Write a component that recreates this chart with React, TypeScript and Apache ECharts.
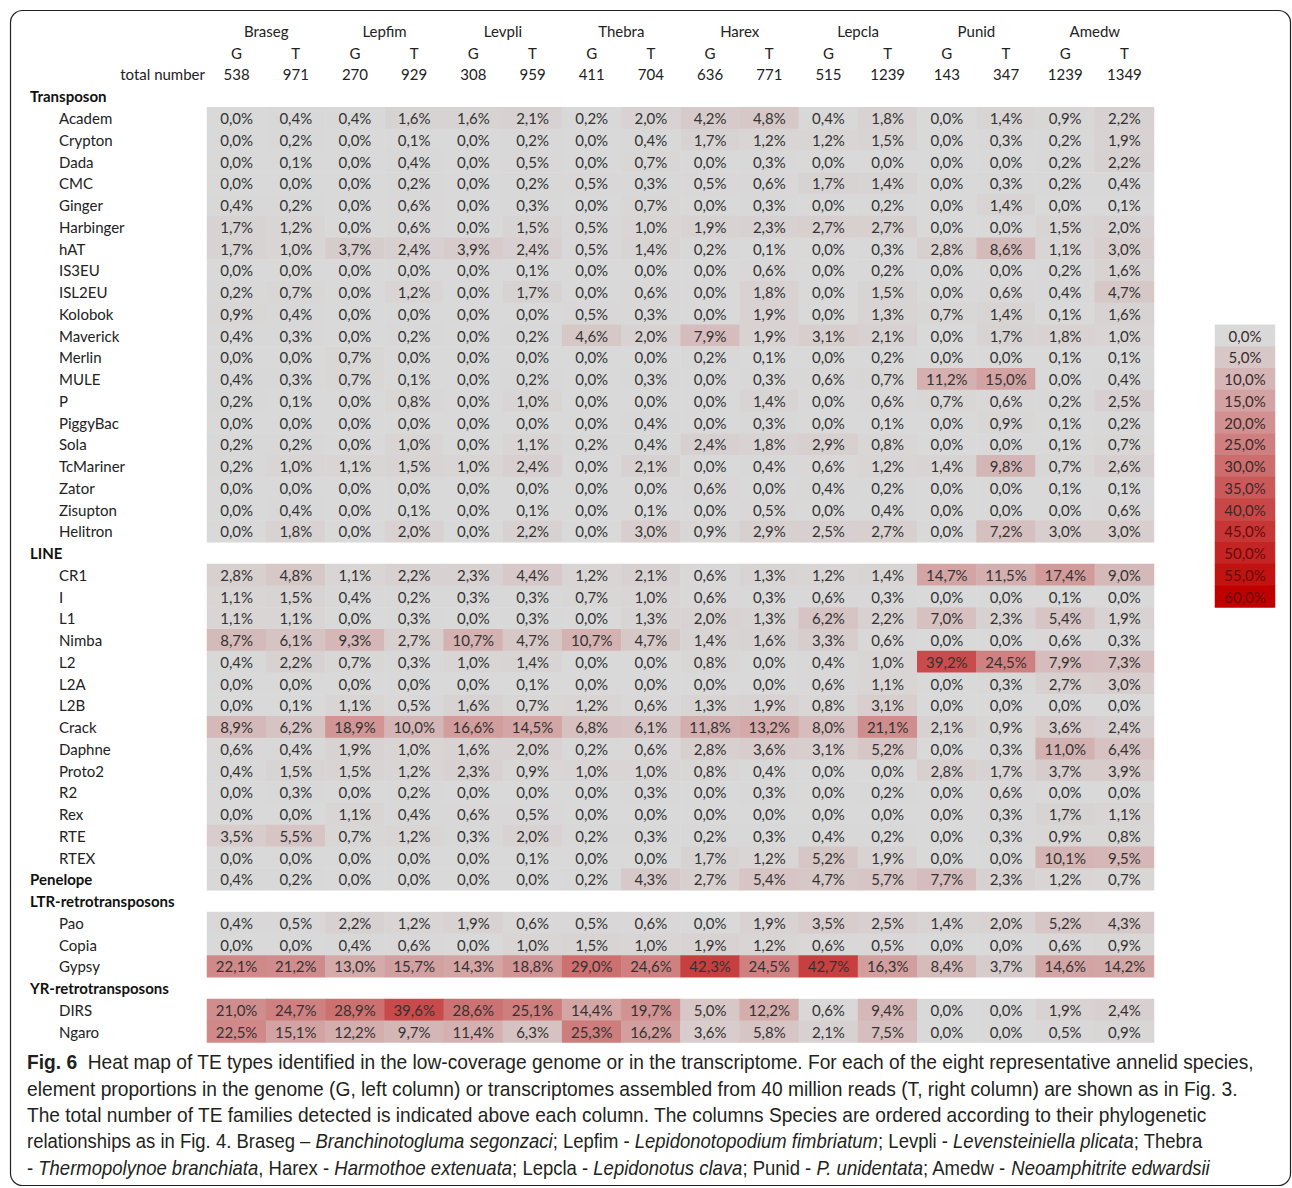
import React, { useEffect, useRef } from 'react';
import * as echarts from 'echarts';

const speciesNames = ['Braseg', 'Lepfim', 'Levpli', 'Thebra', 'Harex', 'Lepcla', 'Punid', 'Amedw'];
const subColumnLabels = ['G', 'T'];
const totalNumbers = [538, 971, 270, 929, 308, 959, 411, 704, 636, 771, 515, 1239, 143, 347, 1239, 1349];

const transposonNames = ['Academ', 'Crypton', 'Dada', 'CMC', 'Ginger', 'Harbinger', 'hAT', 'IS3EU', 'ISL2EU', 'Kolobok', 'Maverick', 'Merlin', 'MULE', 'P', 'PiggyBac', 'Sola', 'TcMariner', 'Zator', 'Zisupton', 'Helitron'];
const transposonValues = [
  [0.0, 0.4, 0.4, 1.6, 1.6, 2.1, 0.2, 2.0, 4.2, 4.8, 0.4, 1.8, 0.0, 1.4, 0.9, 2.2],
  [0.0, 0.2, 0.0, 0.1, 0.0, 0.2, 0.0, 0.4, 1.7, 1.2, 1.2, 1.5, 0.0, 0.3, 0.2, 1.9],
  [0.0, 0.1, 0.0, 0.4, 0.0, 0.5, 0.0, 0.7, 0.0, 0.3, 0.0, 0.0, 0.0, 0.0, 0.2, 2.2],
  [0.0, 0.0, 0.0, 0.2, 0.0, 0.2, 0.5, 0.3, 0.5, 0.6, 1.7, 1.4, 0.0, 0.3, 0.2, 0.4],
  [0.4, 0.2, 0.0, 0.6, 0.0, 0.3, 0.0, 0.7, 0.0, 0.3, 0.0, 0.2, 0.0, 1.4, 0.0, 0.1],
  [1.7, 1.2, 0.0, 0.6, 0.0, 1.5, 0.5, 1.0, 1.9, 2.3, 2.7, 2.7, 0.0, 0.0, 1.5, 2.0],
  [1.7, 1.0, 3.7, 2.4, 3.9, 2.4, 0.5, 1.4, 0.2, 0.1, 0.0, 0.3, 2.8, 8.6, 1.1, 3.0],
  [0.0, 0.0, 0.0, 0.0, 0.0, 0.1, 0.0, 0.0, 0.0, 0.6, 0.0, 0.2, 0.0, 0.0, 0.2, 1.6],
  [0.2, 0.7, 0.0, 1.2, 0.0, 1.7, 0.0, 0.6, 0.0, 1.8, 0.0, 1.5, 0.0, 0.6, 0.4, 4.7],
  [0.9, 0.4, 0.0, 0.0, 0.0, 0.0, 0.5, 0.3, 0.0, 1.9, 0.0, 1.3, 0.7, 1.4, 0.1, 1.6],
  [0.4, 0.3, 0.0, 0.2, 0.0, 0.2, 4.6, 2.0, 7.9, 1.9, 3.1, 2.1, 0.0, 1.7, 1.8, 1.0],
  [0.0, 0.0, 0.7, 0.0, 0.0, 0.0, 0.0, 0.0, 0.2, 0.1, 0.0, 0.2, 0.0, 0.0, 0.1, 0.1],
  [0.4, 0.3, 0.7, 0.1, 0.0, 0.2, 0.0, 0.3, 0.0, 0.3, 0.6, 0.7, 11.2, 15.0, 0.0, 0.4],
  [0.2, 0.1, 0.0, 0.8, 0.0, 1.0, 0.0, 0.0, 0.0, 1.4, 0.0, 0.6, 0.7, 0.6, 0.2, 2.5],
  [0.0, 0.0, 0.0, 0.0, 0.0, 0.0, 0.0, 0.4, 0.0, 0.3, 0.0, 0.1, 0.0, 0.9, 0.1, 0.2],
  [0.2, 0.2, 0.0, 1.0, 0.0, 1.1, 0.2, 0.4, 2.4, 1.8, 2.9, 0.8, 0.0, 0.0, 0.1, 0.7],
  [0.2, 1.0, 1.1, 1.5, 1.0, 2.4, 0.0, 2.1, 0.0, 0.4, 0.6, 1.2, 1.4, 9.8, 0.7, 2.6],
  [0.0, 0.0, 0.0, 0.0, 0.0, 0.0, 0.0, 0.0, 0.6, 0.0, 0.4, 0.2, 0.0, 0.0, 0.1, 0.1],
  [0.0, 0.4, 0.0, 0.1, 0.0, 0.1, 0.0, 0.1, 0.0, 0.5, 0.0, 0.4, 0.0, 0.0, 0.0, 0.6],
  [0.0, 1.8, 0.0, 2.0, 0.0, 2.2, 0.0, 3.0, 0.9, 2.9, 2.5, 2.7, 0.0, 7.2, 3.0, 3.0],
];

const lineNames = ['CR1', 'I', 'L1', 'Nimba', 'L2', 'L2A', 'L2B', 'Crack', 'Daphne', 'Proto2', 'R2', 'Rex', 'RTE', 'RTEX'];
const lineValues = [
  [2.8, 4.8, 1.1, 2.2, 2.3, 4.4, 1.2, 2.1, 0.6, 1.3, 1.2, 1.4, 14.7, 11.5, 17.4, 9.0],
  [1.1, 1.5, 0.4, 0.2, 0.3, 0.3, 0.7, 1.0, 0.6, 0.3, 0.6, 0.3, 0.0, 0.0, 0.1, 0.0],
  [1.1, 1.1, 0.0, 0.3, 0.0, 0.3, 0.0, 1.3, 2.0, 1.3, 6.2, 2.2, 7.0, 2.3, 5.4, 1.9],
  [8.7, 6.1, 9.3, 2.7, 10.7, 4.7, 10.7, 4.7, 1.4, 1.6, 3.3, 0.6, 0.0, 0.0, 0.6, 0.3],
  [0.4, 2.2, 0.7, 0.3, 1.0, 1.4, 0.0, 0.0, 0.8, 0.0, 0.4, 1.0, 39.2, 24.5, 7.9, 7.3],
  [0.0, 0.0, 0.0, 0.0, 0.0, 0.1, 0.0, 0.0, 0.0, 0.0, 0.6, 1.1, 0.0, 0.3, 2.7, 3.0],
  [0.0, 0.1, 1.1, 0.5, 1.6, 0.7, 1.2, 0.6, 1.3, 1.9, 0.8, 3.1, 0.0, 0.0, 0.0, 0.0],
  [8.9, 6.2, 18.9, 10.0, 16.6, 14.5, 6.8, 6.1, 11.8, 13.2, 8.0, 21.1, 2.1, 0.9, 3.6, 2.4],
  [0.6, 0.4, 1.9, 1.0, 1.6, 2.0, 0.2, 0.6, 2.8, 3.6, 3.1, 5.2, 0.0, 0.3, 11.0, 6.4],
  [0.4, 1.5, 1.5, 1.2, 2.3, 0.9, 1.0, 1.0, 0.8, 0.4, 0.0, 0.0, 2.8, 1.7, 3.7, 3.9],
  [0.0, 0.3, 0.0, 0.2, 0.0, 0.0, 0.0, 0.3, 0.0, 0.3, 0.0, 0.2, 0.0, 0.6, 0.0, 0.0],
  [0.0, 0.0, 1.1, 0.4, 0.6, 0.5, 0.0, 0.0, 0.0, 0.0, 0.0, 0.0, 0.0, 0.3, 1.7, 1.1],
  [3.5, 5.5, 0.7, 1.2, 0.3, 2.0, 0.2, 0.3, 0.2, 0.3, 0.4, 0.2, 0.0, 0.3, 0.9, 0.8],
  [0.0, 0.0, 0.0, 0.0, 0.0, 0.1, 0.0, 0.0, 1.7, 1.2, 5.2, 1.9, 0.0, 0.0, 10.1, 9.5],
];

const penelopeValues = [0.4, 0.2, 0.0, 0.0, 0.0, 0.0, 0.2, 4.3, 2.7, 5.4, 4.7, 5.7, 7.7, 2.3, 1.2, 0.7];

const ltrNames = ['Pao', 'Copia', 'Gypsy'];
const ltrValues = [
  [0.4, 0.5, 2.2, 1.2, 1.9, 0.6, 0.5, 0.6, 0.0, 1.9, 3.5, 2.5, 1.4, 2.0, 5.2, 4.3],
  [0.0, 0.0, 0.4, 0.6, 0.0, 1.0, 1.5, 1.0, 1.9, 1.2, 0.6, 0.5, 0.0, 0.0, 0.6, 0.9],
  [22.1, 21.2, 13.0, 15.7, 14.3, 18.8, 29.0, 24.6, 42.3, 24.5, 42.7, 16.3, 8.4, 3.7, 14.6, 14.2],
];

const yrNames = ['DIRS', 'Ngaro'];
const yrValues = [
  [21.0, 24.7, 28.9, 39.6, 28.6, 25.1, 14.4, 19.7, 5.0, 12.2, 0.6, 9.4, 0.0, 0.0, 1.9, 2.4],
  [22.5, 15.1, 12.2, 9.7, 11.4, 6.3, 25.3, 16.2, 3.6, 5.8, 2.1, 7.5, 0.0, 0.0, 0.5, 0.9],
];

const legendSteps = [0, 5, 10, 15, 20, 25, 30, 35, 40, 45, 50, 55, 60];

type Seg = { t: string; s: 'n' | 'b' | 'i' | 'l' };
const captionLines: { segs: Seg[]; width: number }[] = [
  {
    width: 1228,
    segs: [
      { t: 'Fig. 6', s: 'b' },
      { t: '  Heat map of TE types identified in the low-coverage genome or in the transcriptome. For each of the eight representative annelid species,', s: 'n' },
    ],
  },
  {
    width: 1211,
    segs: [
      { t: 'element proportions in the genome (G, left column) or transcriptomes assembled from 40 million reads (T, right column) are shown as in Fig. ', s: 'n' },
      { t: '3', s: 'l' },
      { t: '.', s: 'n' },
    ],
  },
  {
    width: 1180,
    segs: [
      { t: 'The total number of TE families detected is indicated above each column. The columns Species are ordered according to their phylogenetic', s: 'n' },
    ],
  },
  {
    width: 1176,
    segs: [
      { t: 'relationships as in Fig. ', s: 'n' },
      { t: '4', s: 'l' },
      { t: '. Braseg – ', s: 'n' },
      { t: 'Branchinotogluma segonzaci', s: 'i' },
      { t: '; Lepfim - ', s: 'n' },
      { t: 'Lepidonotopodium fimbriatum', s: 'i' },
      { t: '; Levpli - ', s: 'n' },
      { t: 'Levensteiniella plicata', s: 'i' },
      { t: '; Thebra', s: 'n' },
    ],
  },
  {
    width: 1183,
    segs: [
      { t: '- ', s: 'n' },
      { t: 'Thermopolynoe branchiata', s: 'i' },
      { t: ', Harex - ', s: 'n' },
      { t: 'Harmothoe extenuata', s: 'i' },
      { t: '; Lepcla - ', s: 'n' },
      { t: 'Lepidonotus clava', s: 'i' },
      { t: '; Punid - ', s: 'n' },
      { t: 'P. unidentata', s: 'i' },
      { t: '; Amedw - ', s: 'n' },
      { t: 'Neoamphitrite edwardsii', s: 'i' },
    ],
  },
];

type Row = { label: string; header: boolean; values?: number[] };
const rows: Row[] = [
  { label: 'Transposon', header: true },
  ...transposonNames.map((n, i) => ({ label: n, header: false, values: transposonValues[i] })),
  { label: 'LINE', header: true },
  ...lineNames.map((n, i) => ({ label: n, header: false, values: lineValues[i] })),
  { label: 'Penelope', header: true, values: penelopeValues },
  { label: 'LTR-retrotransposons', header: true },
  ...ltrNames.map((n, i) => ({ label: n, header: false, values: ltrValues[i] })),
  { label: 'YR-retrotransposons', header: true },
  ...yrNames.map((n, i) => ({ label: n, header: false, values: yrValues[i] })),
];

const fmt = (v: number) => v.toFixed(1).replace('.', ',') + '%';

const TABLE_FONT = 'Lato, "Open Sans", sans-serif';
const CAP_FONT = '"Liberation Sans", Arial, sans-serif';
const CAP_SIZE = 20.5;
const ROW_H = 21.75;

export default function App() {
  const ref = useRef<HTMLDivElement>(null);

  useEffect(() => {
    document.body.style.margin = '0';
    if (!ref.current) return;
    const chart = echarts.init(ref.current, undefined, { renderer: 'svg' });

    const colLabels: string[] = [];
    speciesNames.forEach(() => subColumnLabels.forEach((s) => colLabels.push(s)));
    const colKeys = colLabels.map((s, i) => s + '_' + i);

    const data: [number, number, number][] = [];
    rows.forEach((r, yi) => {
      if (r.values) r.values.forEach((v, xi) => data.push([xi, yi, v]));
    });
    const legendData = legendSteps.map((v, i) => ({
      value: [0, i, v],
      label: { color: v >= 45 ? '#6a0808' : '#3a2a2a' },
    }));

    // caption measurement
    const ctx = document.createElement('canvas').getContext('2d')!;
    const fontFor = (s: Seg['s']) =>
      `${s === 'i' ? 'italic ' : ''}${s === 'b' ? 'bold ' : ''}${CAP_SIZE}px ${CAP_FONT}`;
    const captionGraphics = captionLines.map((line, li) => {
      let w = 0;
      line.segs.forEach((sg) => {
        ctx.font = fontFor(sg.s);
        w += ctx.measureText(sg.t).width;
      });
      const sx = w > 0 ? line.width / w : 1;
      return {
        type: 'text',
        x: 27,
        y: 1062 + li * 26.3,
        scaleX: sx,
        silent: true,
        style: {
          text: line.segs.map((sg) => `{${sg.s}|${sg.t}}`).join(''),
          verticalAlign: 'middle',
          align: 'left',
          fontFamily: CAP_FONT,
          fontSize: CAP_SIZE,
          fill: '#231f20',
          rich: {
            n: { fontFamily: CAP_FONT, fontSize: CAP_SIZE, color: '#231f20' },
            b: { fontFamily: CAP_FONT, fontSize: CAP_SIZE, fontWeight: 'bold', color: '#231f20' },
            i: { fontFamily: CAP_FONT, fontSize: CAP_SIZE, fontStyle: 'italic', color: '#231f20' },
            l: { fontFamily: CAP_FONT, fontSize: CAP_SIZE, color: '#2b5fd9' },
          },
        },
      };
    });

    const hidden = { axisLine: { show: false }, axisTick: { show: false }, splitLine: { show: false } };

    const option: any = {
      animation: false,
      backgroundColor: '#ffffff',
      grid: [
        { left: 207, top: 85.375, width: 947, height: ROW_H * rows.length },
        { left: 1215, top: 31 + 14 * ROW_H - ROW_H / 2, width: 60, height: ROW_H * legendSteps.length },
      ],
      xAxis: [
        {
          type: 'category',
          gridIndex: 0,
          position: 'top',
          data: colKeys,
          ...hidden,
          axisLabel: {
            margin: 25,
            interval: 0,
            fontFamily: TABLE_FONT,
            fontSize: 15,
            color: '#222',
            formatter: (v: string) => v.split('_')[0],
          },
        },
        {
          type: 'category',
          gridIndex: 0,
          position: 'top',
          data: totalNumbers.map((n, i) => String(n) + '#' + i),
          ...hidden,
          axisLabel: {
            margin: 4,
            interval: 0,
            fontFamily: TABLE_FONT,
            fontSize: 15,
            color: '#222',
            formatter: (v: string) => v.split('#')[0],
          },
        },
        {
          type: 'category',
          gridIndex: 0,
          position: 'top',
          data: speciesNames,
          ...hidden,
          axisLabel: {
            margin: 47,
            interval: 0,
            fontFamily: TABLE_FONT,
            fontSize: 15,
            color: '#222',
          },
        },
        {
          type: 'category',
          gridIndex: 1,
          data: ['legend'],
          ...hidden,
          axisLabel: { show: false },
        },
      ],
      yAxis: [
        {
          type: 'category',
          gridIndex: 0,
          inverse: true,
          data: rows.map((r) => r.label),
          ...hidden,
          axisLabel: {
            interval: 0,
            align: 'left',
            margin: 177,
            formatter: (v: string, idx: number) => (rows[idx].header ? `{h|${v}}` : `{s|${v}}`),
            rich: {
              h: { fontFamily: TABLE_FONT, fontSize: 15, fontWeight: 'bold', color: '#111' },
              s: { fontFamily: TABLE_FONT, fontSize: 15, color: '#222', padding: [0, 0, 0, 29] },
            },
          },
        },
        {
          type: 'category',
          gridIndex: 1,
          inverse: true,
          data: legendSteps.map((v) => fmt(v)),
          ...hidden,
          axisLabel: { show: false },
        },
      ],
      visualMap: {
        type: 'continuous',
        show: false,
        min: 0,
        max: 60,
        dimension: 2,
        seriesIndex: [0, 1],
        inRange: { color: ['#D9D9D9', '#C00000'] },
      },
      series: [
        {
          type: 'heatmap',
          xAxisIndex: 0,
          yAxisIndex: 0,
          data,
          itemStyle: { borderWidth: 0 },
          emphasis: { disabled: true },
          label: {
            show: true,
            fontFamily: TABLE_FONT,
            fontSize: 15,
            color: '#333',
            formatter: (p: any) => fmt(p.value[2]),
          },
        },
        {
          type: 'heatmap',
          xAxisIndex: 3,
          yAxisIndex: 1,
          data: legendData,
          emphasis: { disabled: true },
          label: {
            show: true,
            fontFamily: TABLE_FONT,
            fontSize: 15,
            formatter: (p: any) => fmt(p.value[2]),
          },
        },
      ],
      graphic: [
        {
          type: 'rect',
          silent: true,
          shape: { x: 10.5, y: 10.5, width: 1280, height: 1175, r: 12 },
          style: { fill: 'none', stroke: '#222', lineWidth: 1.2 },
        },
        {
          type: 'text',
          x: 205,
          y: 74,
          silent: true,
          style: {
            text: 'total number',
            align: 'right',
            verticalAlign: 'middle',
            fontFamily: TABLE_FONT,
            fontSize: 15,
            fill: '#222',
          },
        },
        ...captionGraphics,
      ],
    };

    chart.setOption(option);
    return () => chart.dispose();
  }, []);

  return <div ref={ref} style={{ width: 1292, height: 1188 }} />;
}
